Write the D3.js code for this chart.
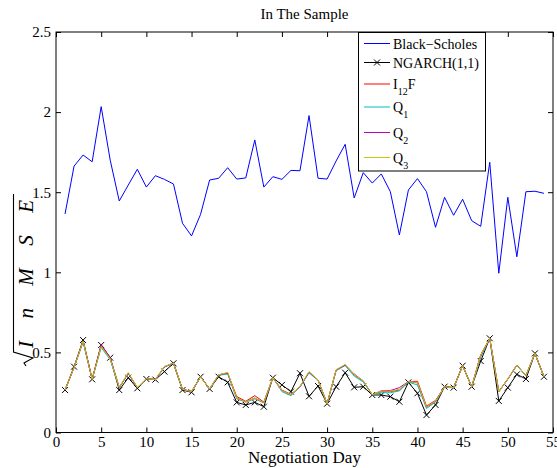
<!DOCTYPE html>
<html>
<head>
<meta charset="utf-8">
<script src="https://cdn.jsdelivr.net/npm/d3@7"></script>
<style>
  body { margin: 0; background: #fff; }
  svg { display: block; font-family: 'Liberation Serif', 'Times New Roman', serif; }
</style>
</head>
<body>
<div id="chart"></div>
<script>
// Negotiation days on the x axis
var days = [1, 2, 3, 4, 5, 6, 7, 8, 9, 10, 11, 12, 13, 14, 15, 16, 17, 18, 19, 20,
  21, 22, 23, 24, 25, 26, 27, 28, 29, 30, 31, 32, 33, 34, 35, 36, 37, 38, 39, 40,
  41, 42, 43, 44, 45, 46, 47, 48, 49, 50, 51, 52, 53, 54];

var blackScholes = [1.364, 1.663, 1.732, 1.69, 2.034, 1.70, 1.445, 1.545, 1.643, 1.532,
  1.603, 1.58, 1.551, 1.306, 1.227, 1.362, 1.576, 1.587, 1.653, 1.582,
  1.589, 1.826, 1.532, 1.597, 1.58, 1.636, 1.634, 1.978, 1.587, 1.582,
  1.695, 1.799, 1.464, 1.622, 1.557, 1.614, 1.503, 1.233, 1.514, 1.585,
  1.503, 1.281, 1.468, 1.356, 1.456, 1.322, 1.287, 1.687, 0.994, 1.468,
  1.097, 1.503, 1.506, 1.493];

var ngarch = [0.265, 0.411, 0.577, 0.332, 0.546, 0.467, 0.265, 0.342, 0.276, 0.334,
  0.33, 0.38, 0.432, 0.265, 0.251, 0.348, 0.272, 0.348, 0.313, 0.188,
  0.172, 0.188, 0.161, 0.342, 0.297, 0.255, 0.37, 0.226, 0.29, 0.18,
  0.286, 0.373, 0.282, 0.286, 0.234, 0.234, 0.224, 0.192, 0.313, 0.245,
  0.109, 0.172, 0.286, 0.28, 0.417, 0.286, 0.446, 0.588, 0.197, 0.28,
  0.363, 0.334, 0.494, 0.348];

var i12f = [0.265, 0.405, 0.570, 0.332, 0.540, 0.46, 0.28, 0.37, 0.28, 0.335,
  0.33, 0.41, 0.432, 0.27, 0.255, 0.348, 0.272, 0.359, 0.37, 0.224,
  0.195, 0.23, 0.19, 0.342, 0.265, 0.238, 0.286, 0.376, 0.328, 0.18,
  0.39, 0.421, 0.359, 0.321, 0.234, 0.255, 0.255, 0.265, 0.317, 0.32,
  0.165, 0.2, 0.286, 0.28, 0.417, 0.286, 0.484, 0.588, 0.255, 0.334,
  0.421, 0.355, 0.494, 0.348];

var q1 = [0.265, 0.405, 0.565, 0.332, 0.530, 0.455, 0.28, 0.368, 0.28, 0.335,
  0.33, 0.408, 0.432, 0.27, 0.255, 0.348, 0.272, 0.357, 0.365, 0.21,
  0.19, 0.21, 0.185, 0.342, 0.255, 0.23, 0.284, 0.372, 0.325, 0.18,
  0.386, 0.418, 0.352, 0.315, 0.234, 0.248, 0.248, 0.26, 0.314, 0.297,
  0.15, 0.19, 0.286, 0.277, 0.417, 0.286, 0.47, 0.588, 0.255, 0.332,
  0.419, 0.353, 0.494, 0.348];

var q2 = [0.265, 0.407, 0.572, 0.332, 0.548, 0.468, 0.282, 0.37, 0.28, 0.337,
  0.332, 0.41, 0.434, 0.27, 0.255, 0.348, 0.272, 0.36, 0.372, 0.215,
  0.192, 0.215, 0.187, 0.342, 0.262, 0.236, 0.286, 0.378, 0.328, 0.18,
  0.39, 0.422, 0.365, 0.322, 0.236, 0.26, 0.262, 0.28, 0.318, 0.31,
  0.158, 0.195, 0.286, 0.28, 0.417, 0.286, 0.48, 0.588, 0.255, 0.334,
  0.421, 0.355, 0.494, 0.348];

var q3 = [0.265, 0.406, 0.571, 0.332, 0.538, 0.46, 0.282, 0.375, 0.28, 0.336,
  0.331, 0.412, 0.433, 0.27, 0.255, 0.348, 0.272, 0.36, 0.375, 0.215,
  0.192, 0.215, 0.188, 0.342, 0.262, 0.236, 0.287, 0.38, 0.328, 0.18,
  0.392, 0.425, 0.362, 0.322, 0.236, 0.258, 0.258, 0.27, 0.318, 0.312,
  0.16, 0.196, 0.286, 0.28, 0.417, 0.286, 0.482, 0.588, 0.255, 0.334,
  0.421, 0.355, 0.494, 0.348];

var xTicks = [0, 5, 10, 15, 20, 25, 30, 35, 40, 45, 50, 55];
var yTicks = [0, 0.5, 1, 1.5, 2, 2.5];

var series = [
  { name: 'Black\u2212Scholes', values: blackScholes, color: '#0000ff' },
  { name: 'NGARCH(1,1)', values: ngarch, color: '#000000', marker: true },
  { name: 'I', sub: '12', after: 'F', values: i12f, color: '#ff0000' },
  { name: 'Q', sub: '1', values: q1, color: '#00bfbf' },
  { name: 'Q', sub: '2', values: q2, color: '#bf00bf' },
  { name: 'Q', sub: '3', values: q3, color: '#c8c800' }
];

(function () {
  var W = 557, H = 468;
  var pL = 56, pR = 553, pT = 32, pB = 432.5;

  var svg = d3.select('#chart').append('svg')
    .attr('width', W).attr('height', H);

  var x = d3.scaleLinear().domain([0, 55]).range([pL, pR]);
  var y = d3.scaleLinear().domain([0, 2.5]).range([pB, pT]);

  var line = d3.line()
    .x(function (d, i) { return x(days[i]); })
    .y(function (d) { return y(d); });

  var plot = svg.append('g');
  series.forEach(function (s) {
    plot.append('path')
      .attr('d', line(s.values))
      .attr('fill', 'none')
      .attr('stroke', s.color)
      .attr('stroke-width', 1);
    if (s.marker) {
      plot.selectAll(null).data(s.values).enter().append('path')
        .attr('d', function (d, i) {
          var cx = x(days[i]), cy = y(d), r = 3;
          return 'M' + (cx - r) + ',' + (cy - r) + 'L' + (cx + r) + ',' + (cy + r) +
            'M' + (cx - r) + ',' + (cy + r) + 'L' + (cx + r) + ',' + (cy - r);
        })
        .attr('stroke', s.color)
        .attr('stroke-width', 1);
    }
  });

  // axes, ticks inside on all four sides
  var axB = svg.append('g').attr('transform', 'translate(0,' + pB + ')')
    .call(d3.axisBottom(x).tickValues(xTicks).tickSizeInner(-5).tickSizeOuter(0).tickPadding(4));
  var axT = svg.append('g').attr('transform', 'translate(0,' + pT + ')')
    .call(d3.axisTop(x).tickValues(xTicks).tickSizeInner(-5).tickSizeOuter(0).tickFormat(''));
  var axL = svg.append('g').attr('transform', 'translate(' + pL + ',0)')
    .call(d3.axisLeft(y).tickValues(yTicks).tickSizeInner(-5).tickSizeOuter(0).tickPadding(5)
      .tickFormat(function (d) { return String(d); }));
  var axR = svg.append('g').attr('transform', 'translate(' + pR + ',0)')
    .call(d3.axisRight(y).tickValues(yTicks).tickSizeInner(-5).tickSizeOuter(0).tickFormat(''));

  [axB, axT, axL, axR].forEach(function (a) {
    a.select('.domain').remove();
    a.selectAll('line').attr('stroke', '#000');
    a.selectAll('text')
      .attr('font-family', 'Liberation Serif, serif')
      .attr('font-size', 15)
      .attr('fill', '#000');
  });
  axB.selectAll('text').attr('dy', '0.7em');
  axL.selectAll('text').attr('dy', '0.32em');

  svg.append('rect')
    .attr('x', pL).attr('y', pT)
    .attr('width', pR - pL).attr('height', pB - pT)
    .attr('fill', 'none').attr('stroke', '#000').attr('stroke-width', 1);

  // title and labels
  svg.append('text')
    .attr('x', (pL + pR) / 2).attr('y', 19)
    .attr('text-anchor', 'middle').attr('font-size', 15)
    .text('In The Sample');

  svg.append('text')
    .attr('x', (pL + pR) / 2).attr('y', 463)
    .attr('text-anchor', 'middle').attr('font-size', 17)
    .text('Negotiation Day');

  var yl = svg.append('g').attr('transform', 'translate(33,366) rotate(-90)');
  yl.append('path')
    .attr('d', 'M0,-7 L3,-9 L8,0 L14,-19.5 L172,-19.5')
    .attr('fill', 'none').attr('stroke', '#000').attr('stroke-width', 1.1);
  yl.append('text')
    .attr('x', 18).attr('y', 0)
    .attr('font-size', 21).attr('font-style', 'italic')
    .attr('textLength', 148).attr('lengthAdjust', 'spacing')
    .text('InMSE');

  // legend
  var lg = svg.append('g');
  lg.append('rect')
    .attr('x', 358.5).attr('y', 32.5).attr('width', 127).attr('height', 138.5)
    .attr('fill', '#fff').attr('stroke', '#000').attr('stroke-width', 1);
  var rowY = [43.5, 62.5, 84, 107, 132.5, 157.5];
  series.forEach(function (s, k) {
    var ry = rowY[k];
    lg.append('line')
      .attr('x1', 364).attr('x2', 390).attr('y1', ry).attr('y2', ry)
      .attr('stroke', s.color).attr('stroke-width', 1);
    if (s.marker) {
      lg.append('path')
        .attr('d', 'M374,' + (ry - 3) + 'L380,' + (ry + 3) + 'M374,' + (ry + 3) + 'L380,' + (ry - 3))
        .attr('stroke', s.color);
    }
    var t = lg.append('text').attr('x', 393).attr('y', ry + 5).attr('font-size', 14);
    t.append('tspan').text(s.name);
    if (s.sub) {
      t.append('tspan').attr('dy', 6).attr('font-size', 10).text(s.sub);
      if (s.after) t.append('tspan').attr('dy', -6).attr('font-size', 14).text(s.after);
    }
  });
})();
</script>
</body>
</html>
